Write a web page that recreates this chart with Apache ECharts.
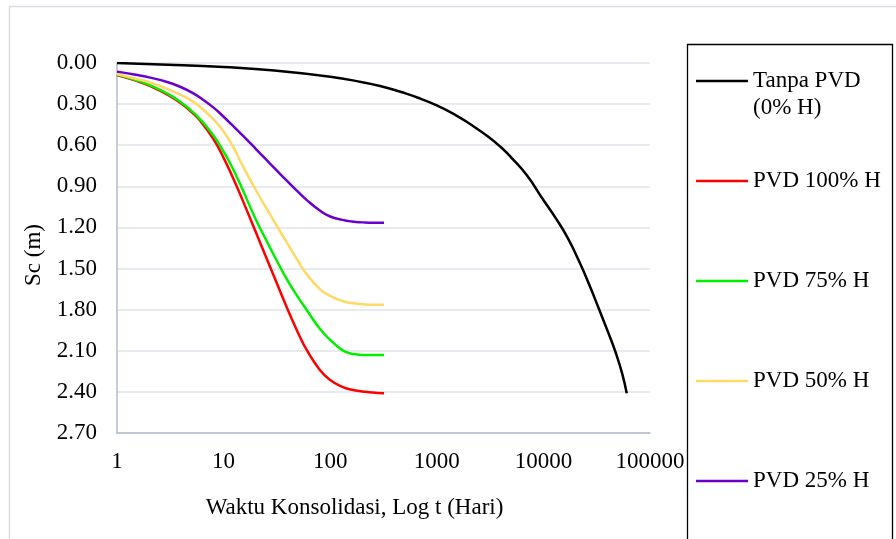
<!DOCTYPE html>
<html>
<head>
<meta charset="utf-8">
<script src="https://cdn.jsdelivr.net/npm/echarts@6/dist/echarts.min.js"></script>
<style>
  html, body { margin: 0; padding: 0; background: #fff; }
  #chart { width: 896px; height: 539px; }
</style>
</head>
<body>
<div id="chart"></div>
<script>
// waktu (hari) dan penurunan Sc (m) tiap kurva
var tanpaT = [1, 3, 10, 30, 100, 200, 300, 500, 700, 1000, 1500, 2000, 3000, 4000, 5000, 7000, 10000, 13000, 17000, 22000, 27000, 33000, 40000, 48000, 55000, 60500];
var tanpaS = [0.000, 0.012, 0.030, 0.055, 0.10, 0.14, 0.17, 0.22, 0.26, 0.31, 0.38, 0.44, 0.535, 0.615, 0.69, 0.82, 1.00, 1.13, 1.28, 1.46, 1.62, 1.79, 1.955, 2.12, 2.27, 2.41];

// kurva PVD memakai waktu yang sama
var pvdT = [1, 1.5, 2, 3, 4, 5, 6, 8, 10, 12, 15, 20, 25, 30, 40, 50, 60, 80, 100, 130, 160, 200, 250, 320];
var pvd100S = [0.088, 0.129, 0.165, 0.233, 0.296, 0.358, 0.42, 0.553, 0.692, 0.823, 0.997, 1.232, 1.416, 1.566, 1.80, 1.97, 2.092, 2.24, 2.314, 2.364, 2.385, 2.397, 2.405, 2.41];
var pvd75S = [0.085, 0.125, 0.16, 0.226, 0.288, 0.349, 0.409, 0.528, 0.647, 0.759, 0.92, 1.14, 1.29, 1.41, 1.59, 1.71, 1.80, 1.94, 2.02, 2.095, 2.122, 2.13, 2.13, 2.13];
var pvd50S = [0.08, 0.115, 0.14, 0.19, 0.235, 0.275, 0.32, 0.41, 0.50, 0.595, 0.745, 0.925, 1.056, 1.159, 1.322, 1.445, 1.54, 1.65, 1.70, 1.737, 1.752, 1.76, 1.764, 1.764];
var pvd25S = [0.063, 0.086, 0.105, 0.14, 0.177, 0.214, 0.252, 0.324, 0.392, 0.452, 0.527, 0.626, 0.704, 0.767, 0.866, 0.941, 0.999, 1.077, 1.12, 1.145, 1.157, 1.163, 1.166, 1.166];

var seriesNames = ['Tanpa PVD (0% H)', 'PVD 100% H', 'PVD 75% H', 'PVD 50% H', 'PVD 25% H'];
var seriesColors = ['#000000', '#FF0000', '#00F000', '#FFD966', '#6A00CC'];

var fontFamily = '"Liberation Serif", "Times New Roman", serif';

function pairs(t, s) {
  var out = [];
  for (var i = 0; i < t.length; i++) out.push([t[i], s[i]]);
  return out;
}

var allData = [
  pairs(tanpaT, tanpaS),
  pairs(pvdT, pvd100S),
  pairs(pvdT, pvd75S),
  pairs(pvdT, pvd50S),
  pairs(pvdT, pvd25S)
];

var chart = echarts.init(document.getElementById('chart'), null, { renderer: 'canvas' });

var series = allData.map(function (d, i) {
  return {
    name: seriesNames[i],
    type: 'line',
    data: d,
    smooth: 0.5,
    symbol: 'none',
    lineStyle: { color: seriesColors[i], width: 2.5 },
    itemStyle: { color: seriesColors[i] }
  };
});

chart.setOption({
  backgroundColor: '#fff',
  animation: false,
  textStyle: { fontFamily: fontFamily },
  graphic: [
    {
      type: 'rect',
      shape: { x: 9.5, y: 6.5, width: 920, height: 600 },
      style: { fill: 'none', stroke: '#D9DDE3', lineWidth: 1.5 },
      silent: true,
      z: -10
    },
    {
      type: 'rect',
      shape: { x: 687.5, y: 44.5, width: 205, height: 520 },
      style: { fill: 'none', stroke: '#000', lineWidth: 1.3 },
      silent: true
    }
  ],
  grid: {
    left: 117,
    top: 63,
    width: 533,
    height: 370,
    containLabel: false
  },
  legend: {
    orient: 'vertical',
    left: 696,
    top: 40.5,
    padding: 0,
    itemGap: 19,
    itemWidth: 52,
    itemHeight: 2.5,
    icon: 'rect',
    textStyle: {
      fontFamily: fontFamily,
      fontSize: 23,
      color: '#000',
      lineHeight: 27
    },
    // tiga baris per item supaya jaraknya sama; baris tengah sejajar garis
    formatter: function (name) {
      return name === seriesNames[0] ? '\nTanpa PVD\n(0% H)' : '\n' + name + '\n';
    },
    data: seriesNames
  },
  xAxis: {
    type: 'log',
    logBase: 10,
    min: 1,
    max: 100000,
    position: 'bottom',
    name: 'Waktu Konsolidasi, Log t (Hari)',
    nameLocation: 'middle',
    nameGap: 63,
    nameTextStyle: {
      fontFamily: fontFamily,
      fontSize: 23,
      color: '#000',
      padding: [0, 58, 0, 0]
    },
    axisLine: { show: true, onZero: false, lineStyle: { color: '#B4BCCB', width: 1.5 } },
    axisTick: { show: false },
    splitLine: { show: false },
    minorSplitLine: { show: false },
    axisLabel: {
      margin: 17,
      fontFamily: fontFamily,
      fontSize: 23,
      color: '#000',
      formatter: function (v) { return String(Math.round(v)); }
    }
  },
  yAxis: {
    type: 'value',
    inverse: true,
    min: 0,
    max: 2.7,
    interval: 0.3,
    name: 'Sc (m)',
    nameLocation: 'middle',
    nameGap: 70,
    nameTextStyle: {
      fontFamily: fontFamily,
      fontSize: 23,
      color: '#000',
      padding: [0, 14, 0, 0]
    },
    axisLine: { show: true, lineStyle: { color: '#B4BCCB', width: 1.5 } },
    axisTick: { show: false },
    splitLine: { show: true, lineStyle: { color: '#DFE3EA', width: 1.5 } },
    axisLabel: {
      margin: 20,
      fontFamily: fontFamily,
      fontSize: 23,
      color: '#000',
      formatter: function (v) { return v.toFixed(2); }
    }
  },
  series: series
});
</script>
</body>
</html>
